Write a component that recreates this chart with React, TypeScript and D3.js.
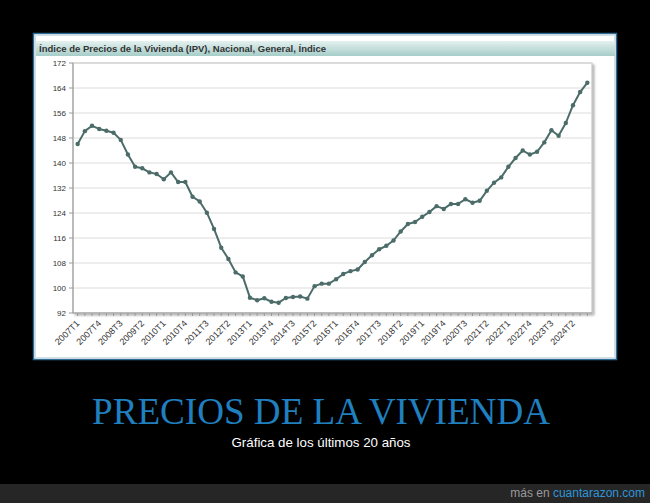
import React from "react";
import * as d3 from "d3";

const years = [2007, 2008, 2009, 2010, 2011, 2012, 2013, 2014, 2015, 2016, 2017, 2018, 2019, 2020, 2021, 2022, 2023, 2024];
const quarters = ["T1", "T2", "T3", "T4"];
const categories: string[] = years.flatMap((y) => quarters.map((q) => `${y}${q}`));

const ipvValues = [
  146.1, 150.2, 151.9, 150.9,
  150.3, 149.7, 147.4, 142.7,
  138.8, 138.3, 137.0, 136.5,
  134.8, 137.0, 133.9, 133.9,
  129.2, 127.7, 124.1, 118.9,
  112.9, 109.3, 105.0, 103.7,
  96.9, 96.1, 96.7, 95.6,
  95.3, 96.8, 97.1, 97.3,
  96.6, 100.6, 101.4, 101.4,
  102.8, 104.5, 105.4, 105.9,
  108.3, 110.5, 112.4, 113.5,
  115.2, 118.1, 120.5, 121.1,
  122.8, 124.3, 126.2, 125.3,
  126.9, 126.9, 128.4, 127.3,
  127.9, 131.1, 133.7, 135.4,
  138.8, 141.6, 144.0, 142.7,
  143.6, 146.6, 150.5, 148.7,
  152.8, 158.5, 162.7, 165.7,
];

const yTicks = [92, 100, 108, 116, 124, 132, 140, 148, 156, 164, 172];

const chartTitle = "Índice de Precios de la Vivienda (IPV), Nacional, General, Índice";
const memeTitle = "PRECIOS DE LA VIVIENDA";
const memeSubtitle = "Gráfica de los últimos 20 años";

export default function App() {
  const W = 650, H = 503;
  const left = 73, right = 592, top = 63, bottom = 313;

  const x = d3.scalePoint<string>().domain(categories).range([left, right]).padding(0.65);
  const y = d3.scaleLinear().domain([92, 172]).range([bottom, top]);

  const data = categories.map((c, i) => ({ c, v: ipvValues[i] }));
  const line = d3.line<{ c: string; v: number }>().x((d) => x(d.c)!).y((d) => y(d.v));

  const labelCats = categories.filter((_, i) => i % 3 === 0);
  const lineColor = "#4b6c69";

  return (
    <svg width={W} height={H} style={{ position: "absolute", left: 0, top: 0 }} xmlns="http://www.w3.org/2000/svg">
      <defs>
        <linearGradient id="titleBar" x1="0" y1="0" x2="0" y2="1">
          <stop offset="0%" stopColor="#e4f1ef" />
          <stop offset="100%" stopColor="#a6cdc9" />
        </linearGradient>
        <filter id="shadow" x="-5%" y="-5%" width="110%" height="110%">
          <feDropShadow dx="2" dy="2" stdDeviation="1.2" floodColor="#000" floodOpacity="0.3" />
        </filter>
      </defs>
      <rect x={0} y={0} width={W} height={H} fill="#000" />
      {/* panel */}
      <rect x={33.5} y={33.5} width={583} height={326} fill="#fff" stroke="#2f6a93" strokeWidth={1.5} />
      <rect x={35.5} y={35.5} width={579} height={322} fill="#fff" stroke="#cfe0e6" strokeWidth={1} />
      <rect x={36} y={41} width={579} height={15} fill="url(#titleBar)" />
      <text x={39} y={52} fontFamily="Liberation Sans, Arial, sans-serif" fontSize={9} fontWeight="bold" fill="#333" textLength={287} lengthAdjust="spacingAndGlyphs">
        {chartTitle}
      </text>

      {/* plot frame */}
      <rect x={left} y={top} width={right - left} height={bottom - top} fill="#fff" stroke="#b8b8b8" strokeWidth={1} filter="url(#shadow)" />
      {yTicks.map((t) => (
        <g key={t}>
          <line x1={left} x2={right} y1={y(t)} y2={y(t)} stroke="#dcdcdc" strokeWidth={1} />
          <line x1={left - 4} x2={left} y1={y(t)} y2={y(t)} stroke="#999" strokeWidth={1} />
          <text x={left - 7} y={y(t) + 3} textAnchor="end" fontFamily="Liberation Sans, Arial, sans-serif" fontSize={8} fill="#333">
            {t}
          </text>
        </g>
      ))}
      <line x1={left} x2={left} y1={top} y2={bottom} stroke="#999" strokeWidth={1} />
      <line x1={left} x2={right} y1={bottom} y2={bottom} stroke="#999" strokeWidth={1} />
      {categories.map((c) => (
        <line key={c} x1={x(c)} x2={x(c)} y1={bottom} y2={bottom + 3} stroke="#999" strokeWidth={1} />
      ))}
      {labelCats.map((c) => (
        <text
          key={c}
          transform={`translate(${x(c)! + 2.5},${bottom + 11}) rotate(-45)`}
          textAnchor="end"
          fontFamily="Liberation Sans, Arial, sans-serif"
          fontSize={9}
          fill="#333"
        >
          {c}
        </text>
      ))}

      <path d={line(data) ?? ""} fill="none" stroke={lineColor} strokeWidth={2} strokeLinejoin="round" />
      {data.map((d) => (
        <circle key={d.c} cx={x(d.c)} cy={y(d.v)} r={2.2} fill={lineColor} />
      ))}

      {/* meme text */}
      <text x={321} y={424} textAnchor="middle" fontFamily="Liberation Serif, Times New Roman, serif" fontSize={37} fill="#1f7fbf" textLength={458} lengthAdjust="spacingAndGlyphs">
        {memeTitle}
      </text>
      <text x={321} y={447} textAnchor="middle" fontFamily="Liberation Sans, Arial, sans-serif" fontSize={13} fill="#fff" textLength={179} lengthAdjust="spacingAndGlyphs">
        {memeSubtitle}
      </text>
      <rect x={0} y={484} width={W} height={19} fill="#262626" />
      <text x={645} y={497} textAnchor="end" fontFamily="Liberation Sans, Arial, sans-serif" fontSize={12} fill="#9a9a9a">
        más en <tspan fill="#2e95d8">cuantarazon.com</tspan>
      </text>
    </svg>
  );
}
